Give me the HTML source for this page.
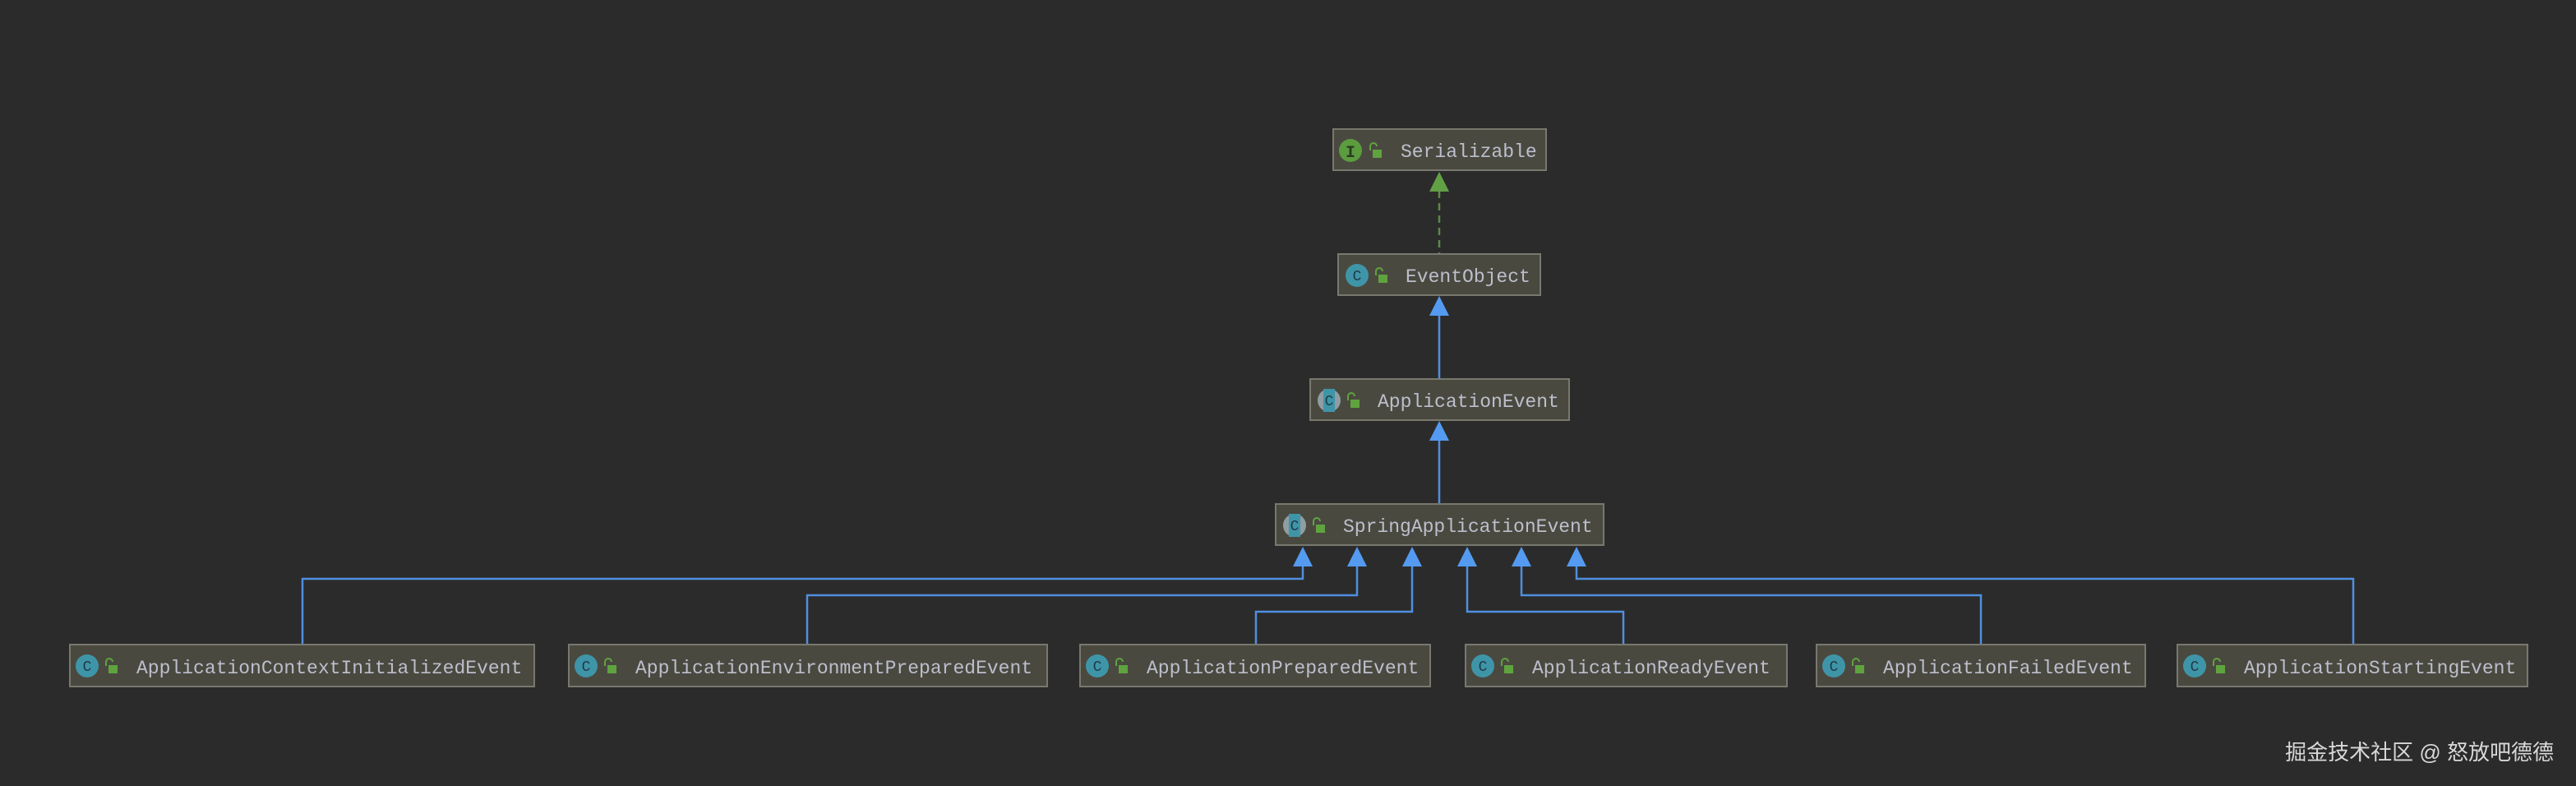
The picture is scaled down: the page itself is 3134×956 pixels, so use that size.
<!DOCTYPE html>
<html><head><meta charset="utf-8"><style>
html,body{margin:0;padding:0;background:#2b2b2b;}
svg{display:block}
text{font-family:"Liberation Mono",monospace;}
</style></head><body>
<svg width="3134" height="956" viewBox="0 0 3134 956" xmlns="http://www.w3.org/2000/svg">
<rect width="3134" height="956" fill="#2b2b2b"/>
<defs>
<g id="lock"><path d="M1 8 V3 a4 4 0 0 1 8 0" fill="none" stroke="#5fa33f" stroke-width="2"/><rect x="4" y="7" width="11" height="10" fill="#5fa33f"/></g>
</defs>
<!-- connectors -->
<g stroke="#4f8fe0" stroke-width="2.5" fill="none">
<line x1="1751" y1="384" x2="1751" y2="461"/>
<line x1="1751" y1="535" x2="1751" y2="613"/>
<polyline points="368,784 368,704 1585,704 1585,688"/>
<polyline points="982,784 982,724 1651,724 1651,688"/>
<polyline points="1528,784 1528,744 1718,744 1718,688"/>
<polyline points="1975,784 1975,744 1785,744 1785,688"/>
<polyline points="2410,784 2410,724 1851,724 1851,688"/>
<polyline points="2863,784 2863,704 1918,704 1918,688"/>
</g>
<g fill="#549af0">
<polygon points="1751,360 1739,384 1763,384"/>
<polygon points="1751,512 1739,536 1763,536"/>
<polygon points="1585,665 1573,689 1597,689"/>
<polygon points="1651,665 1639,689 1663,689"/>
<polygon points="1718,665 1706,689 1730,689"/>
<polygon points="1785,665 1773,689 1797,689"/>
<polygon points="1851,665 1839,689 1863,689"/>
<polygon points="1918,665 1906,689 1930,689"/>
</g>
<line x1="1751" y1="232" x2="1751" y2="309" stroke="#5c8a45" stroke-width="2.5" stroke-dasharray="9,6"/>
<polygon points="1751,209 1739,233 1763,233" fill="#62a046"/>
<!-- boxes -->
<g stroke="#78786f" stroke-width="2" fill="#4a4940">
<rect x="1622" y="157" width="259" height="50"/>
<rect x="1628" y="309" width="246" height="50"/>
<rect x="1594" y="461" width="315" height="50"/>
<rect x="1552" y="613" width="399" height="50"/>
<rect x="85" y="784" width="565" height="51"/>
<rect x="692" y="784" width="582" height="51"/>
<rect x="1314" y="784" width="426" height="51"/>
<rect x="1783" y="784" width="391" height="51"/>
<rect x="2210" y="784" width="400" height="51"/>
<rect x="2649" y="784" width="426" height="51"/>
</g>
<!-- icons -->
<g>
<circle cx="1643" cy="183" r="14" fill="#5b9c3f"/><text x="1643" y="191" font-size="20" fill="#2b3a22" text-anchor="middle" font-weight="bold">I</text>
<use href="#lock" x="1666" y="175"/>
</g>
<g font-size="18" fill="#1f3a48" text-anchor="middle">
<circle cx="1651" cy="335" r="14" fill="#3f95a8"/><text x="1651" y="341">C</text>
<circle cx="1617" cy="487" r="14" fill="#8e9ea2"/><rect x="1610" y="473" width="14" height="28" fill="#3f95a8"/><text x="1617" y="493">C</text>
<circle cx="1575" cy="639" r="14" fill="#8e9ea2"/><rect x="1568" y="625" width="14" height="28" fill="#3f95a8"/><text x="1575" y="645">C</text>
<circle cx="106" cy="810" r="14" fill="#3f95a8"/><text x="106" y="816">C</text>
<circle cx="713" cy="810" r="14" fill="#3f95a8"/><text x="713" y="816">C</text>
<circle cx="1335" cy="810" r="14" fill="#3f95a8"/><text x="1335" y="816">C</text>
<circle cx="1804" cy="810" r="14" fill="#3f95a8"/><text x="1804" y="816">C</text>
<circle cx="2231" cy="810" r="14" fill="#3f95a8"/><text x="2231" y="816">C</text>
<circle cx="2670" cy="810" r="14" fill="#3f95a8"/><text x="2670" y="816">C</text>
</g>
<use href="#lock" x="1673" y="327"/>
<use href="#lock" x="1639" y="479"/>
<use href="#lock" x="1597" y="631"/>
<use href="#lock" x="128" y="802"/>
<use href="#lock" x="735" y="802"/>
<use href="#lock" x="1357" y="802"/>
<use href="#lock" x="1826" y="802"/>
<use href="#lock" x="2253" y="802"/>
<use href="#lock" x="2692" y="802"/>
<!-- labels -->
<g font-size="23" fill="#bcbfcc">
<text x="1704" y="191">Serializable</text>
<text x="1710" y="343">EventObject</text>
<text x="1676" y="495">ApplicationEvent</text>
<text x="1634" y="647">SpringApplicationEvent</text>
<text x="166" y="819">ApplicationContextInitializedEvent</text>
<text x="773" y="819">ApplicationEnvironmentPreparedEvent</text>
<text x="1395" y="819">ApplicationPreparedEvent</text>
<text x="1864" y="819">ApplicationReadyEvent</text>
<text x="2291" y="819">ApplicationFailedEvent</text>
<text x="2730" y="819">ApplicationStartingEvent</text>
</g>
<text x="3107" y="924" text-anchor="end" font-size="26" fill="#d8d8d8" style='font-family:"Liberation Sans","Noto Sans CJK SC",sans-serif'>掘金技术社区 @ 怒放吧德德</text>
</svg>
</body></html>
